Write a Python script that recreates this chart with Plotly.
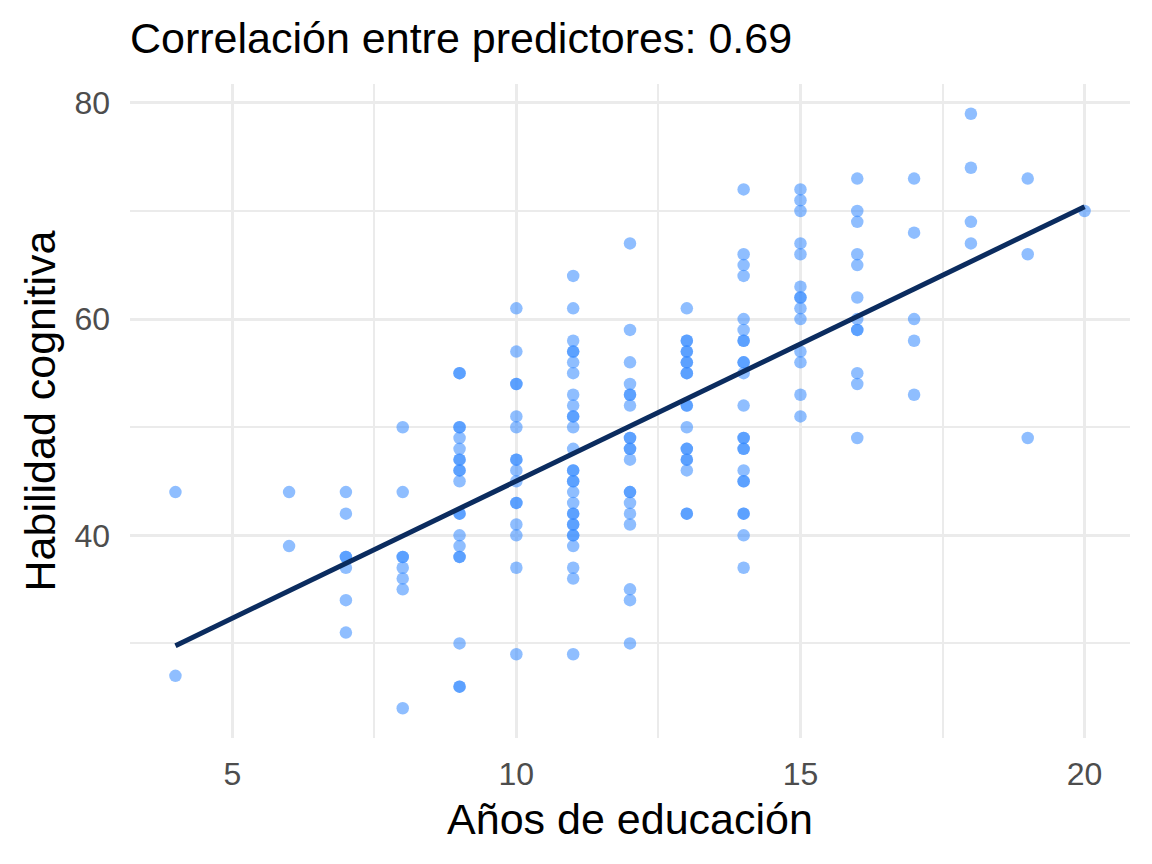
import plotly.graph_objects as go
import numpy as np

# datos (anos de educacion, habilidad cognitiva)
anos_educacion = (
    [4] * 2 + [6] * 2 + [7] * 7 + [8] * 8 + [9] * 20 + [10] * 16 + [11] * 29
    + [12] * 20 + [13] * 19 + [14] * 23 + [15] * 14 + [16] * 12 + [17] * 5
    + [18] * 4 + [19] * 3 + [20] * 1
)
habilidad_cognitiva = (
    [44, 27]
    + [44, 39]
    + [44, 42, 38, 38, 37, 34, 31]
    + [50, 44, 38, 38, 37, 36, 35, 24]
    + [55, 55, 50, 50, 49, 48, 47, 47, 46, 46, 45, 42, 42, 40, 39, 38, 38, 30, 26, 26]
    + [61, 57, 54, 54, 51, 50, 47, 47, 46, 45, 43, 43, 41, 40, 37, 29]
    + [64, 61, 58, 57, 57, 56, 55, 53, 52, 51, 51, 50, 48, 46, 46, 45, 45, 44, 43,
       42, 42, 41, 41, 40, 40, 39, 37, 36, 29]
    + [67, 59, 56, 54, 53, 53, 52, 49, 49, 48, 48, 47, 44, 44, 43, 42, 41, 35, 34, 30]
    + [61, 58, 58, 57, 57, 56, 56, 55, 55, 52, 52, 50, 48, 48, 47, 47, 46, 42, 42]
    + [72, 66, 65, 64, 60, 59, 58, 58, 56, 56, 55, 52, 49, 49, 48, 48, 46, 45, 45,
       42, 42, 40, 37]
    + [72, 71, 70, 67, 66, 63, 62, 62, 61, 60, 57, 56, 53, 51]
    + [73, 70, 69, 66, 65, 62, 60, 59, 59, 55, 54, 49]
    + [73, 68, 60, 58, 53]
    + [79, 74, 69, 67]
    + [73, 66, 49]
    + [70]
)
titulo = "Correlación entre predictores: 0.69"

x = np.array(anos_educacion, dtype=float)
y = np.array(habilidad_cognitiva, dtype=float)

# recta de regresion (lm)
b1, b0 = np.polyfit(x, y, 1)
xl = np.array([x.min(), x.max()])
yl = b0 + b1 * xl

fig = go.Figure()
fig.add_trace(go.Scatter(
    x=x, y=y, mode="markers",
    marker=dict(size=12.5, color="rgba(51,136,255,0.55)", line=dict(width=0)),
    hoverinfo="x+y", showlegend=False))
fig.add_trace(go.Scatter(
    x=xl, y=yl, mode="lines",
    line=dict(color="#0b2c5f", width=5),
    showlegend=False))

fuente = "Liberation Sans, Arial, sans-serif"
fig.update_layout(
    width=1152, height=864,
    paper_bgcolor="white", plot_bgcolor="white",
    margin=dict(l=130, r=22, t=84, b=126, autoexpand=False),
    font=dict(family=fuente, color="black"),
    title=dict(text=titulo, x=0, xref="paper", xanchor="left",
               y=1 - 38 / 864, yref="container", yanchor="middle",
               automargin=False, font=dict(size=43, color="black")),
)
fig.update_xaxes(
    range=[3.2, 20.8], tickvals=[5, 10, 15, 20], showline=False, zeroline=False,
    ticks="", gridcolor="#ebebeb", gridwidth=3, automargin=False,
    minor=dict(tickvals=[7.5, 12.5, 17.5], showgrid=True, gridcolor="#ebebeb", gridwidth=1.5),
    tickfont=dict(size=32, color="#4d4d4d"), ticklabelstandoff=14,
    title=dict(text="Años de educación", font=dict(size=43, color="black"), standoff=12),
)
fig.update_yaxes(
    range=[21.25, 81.75], tickvals=[40, 60, 80], showline=False, zeroline=False,
    ticks="", gridcolor="#ebebeb", gridwidth=3, automargin=False,
    minor=dict(tickvals=[30, 50, 70], showgrid=True, gridcolor="#ebebeb", gridwidth=1.5),
    tickfont=dict(size=32, color="#4d4d4d"), ticklabelstandoff=19,
    title=dict(text="Habilidad cognitiva", font=dict(size=43, color="black"), standoff=5),
)

# quitar el margen del body para que la figura ocupe la ventana entera
fig.write_html("out.html", config={"displayModeBar": False},
               post_script="document.body.style.margin='0';")
